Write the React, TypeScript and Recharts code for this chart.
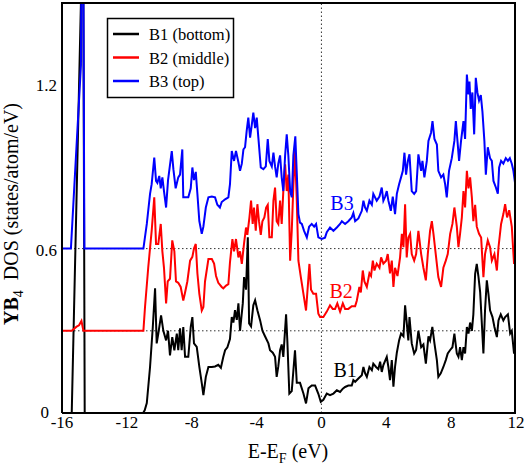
import React from 'react';
import { LineChart, Line, XAxis, YAxis, ReferenceLine, ReferenceDot } from 'recharts';

const SERIF = '"Liberation Serif", "Times New Roman", serif';

// Energy axis ticks (eV)
const X_MAJOR = [-16, -12, -8, -4, 0, 4, 8, 12];
const X_MINOR = [-16, -14, -12, -10, -8, -6, -4, -2, 0, 2, 4, 6, 8, 10, 12];
// DOS axis ticks
const Y_MAJOR = [0, 0.6, 1.2];
const Y_MINOR = [0, 0.3, 0.6, 0.9, 1.2];
// offsets of the shifted curves
const GUIDE_LEVELS = [0.3, 0.6];

// B1 (bottom) – black
const B1_E = [-16, -15.4, -14.7, -14.6, -11.0, -10.9, -10.77, -10.57, -10.4, -10.26, -10.16, -10.06, -9.89, -9.75, -9.58, -9.46, -9.34, -9.2, -9.07, -8.92, -8.83, -8.72, -8.62, -8.52, -8.41, -8.21, -8.06, -7.96, -7.86, -7.69, -7.53, -7.38, -7.28, -7.13, -6.97, -6.76, -6.56, -6.36, -6.2, -6.05, -5.94, -5.8, -5.64, -5.53, -5.43, -5.33, -5.22, -5.12, -5.02, -4.85, -4.77, -4.65, -4.54, -4.46, -4.34, -4.2, -4.09, -3.95, -3.78, -3.64, -3.48, -3.27, -3.17, -3.0, -2.86, -2.76, -2.66, -2.55, -2.45, -2.35, -2.18, -2.1, -1.98, -1.83, -1.63, -1.52, -1.32, -1.11, -0.95, -0.8, -0.6, -0.39, -0.19, -0.04, 0.12, 0.33, 0.53, 0.74, 0.95, 1.15, 1.32, 1.46, 1.66, 1.87, 1.97, 2.08, 2.28, 2.49, 2.59, 2.69, 2.8, 2.96, 3.11, 3.2, 3.37, 3.51, 3.62, 3.72, 3.82, 4.03, 4.13, 4.23, 4.34, 4.44, 4.54, 4.65, 4.79, 4.91, 5.06, 5.16, 5.26, 5.36, 5.43, 5.57, 5.72, 5.84, 5.98, 6.15, 6.29, 6.44, 6.6, 6.7, 6.84, 6.97, 7.12, 7.21, 7.36, 7.52, 7.67, 7.79, 7.94, 8.08, 8.2, 8.35, 8.45, 8.55, 8.66, 8.76, 8.86, 8.97, 9.07, 9.17, 9.28, 9.37, 9.48, 9.58, 9.68, 9.79, 9.89, 9.99, 10.09, 10.2, 10.3, 10.4, 10.55, 10.67, 10.82, 10.92, 11.06, 11.22, 11.33, 11.5, 11.64, 11.74, 11.88, 12.0];
const B1_DOS = [0, 0, 1.85, 0, 0, 0.01, 0.036, 0.168, 0.314, 0.455, 0.254, 0.29, 0.356, 0.3, 0.265, 0.3, 0.21, 0.277, 0.229, 0.29, 0.229, 0.309, 0.229, 0.314, 0.205, 0.205, 0.314, 0.35, 0.254, 0.241, 0.168, 0.109, 0.065, 0.132, 0.168, 0.168, 0.17, 0.176, 0.165, 0.205, 0.229, 0.24, 0.27, 0.35, 0.33, 0.375, 0.34, 0.4, 0.3, 0.4, 0.496, 0.45, 0.641, 0.327, 0.316, 0.393, 0.411, 0.375, 0.338, 0.3, 0.28, 0.254, 0.229, 0.22, 0.205, 0.132, 0.17, 0.229, 0.25, 0.205, 0.36, 0.26, 0.071, 0.08, 0.229, 0.11, 0.11, 0.071, 0.035, 0.09, 0.1, 0.1, 0.07, 0.041, 0.048, 0.071, 0.065, 0.071, 0.083, 0.077, 0.089, 0.095, 0.1, 0.1, 0.12, 0.114, 0.126, 0.138, 0.168, 0.145, 0.132, 0.168, 0.156, 0.18, 0.168, 0.16, 0.187, 0.15, 0.175, 0.205, 0.168, 0.12, 0.193, 0.096, 0.168, 0.22, 0.265, 0.29, 0.28, 0.393, 0.33, 0.265, 0.35, 0.254, 0.217, 0.23, 0.3, 0.24, 0.25, 0.18, 0.28, 0.265, 0.314, 0.254, 0.193, 0.132, 0.145, 0.168, 0.193, 0.217, 0.23, 0.24, 0.29, 0.217, 0.205, 0.24, 0.193, 0.24, 0.217, 0.314, 0.29, 0.33, 0.3, 0.36, 0.508, 0.544, 0.5, 0.44, 0.33, 0.217, 0.375, 0.484, 0.435, 0.375, 0.35, 0.314, 0.277, 0.338, 0.36, 0.338, 0.35, 0.36, 0.29, 0.3, 0.217, 0.28];

// B2 (middle) – red
const B2_E = [-16, -15.4, -15.1, -14.95, -14.8, -14.68, -10.98, -10.88, -10.68, -10.47, -10.31, -10.2, -10.06, -9.91, -9.81, -9.71, -9.58, -9.48, -9.34, -9.2, -9.07, -8.97, -8.83, -8.68, -8.52, -8.41, -8.27, -8.1, -7.96, -7.86, -7.75, -7.65, -7.53, -7.38, -7.28, -7.18, -6.97, -6.76, -6.62, -6.5, -6.36, -6.15, -6.05, -5.88, -5.74, -5.64, -5.49, -5.39, -5.27, -5.12, -5.02, -4.91, -4.77, -4.65, -4.57, -4.44, -4.34, -4.24, -4.16, -4.05, -3.95, -3.85, -3.74, -3.64, -3.52, -3.41, -3.31, -3.21, -3.06, -2.96, -2.86, -2.76, -2.66, -2.55, -2.45, -2.35, -2.24, -2.14, -2.04, -1.93, -1.83, -1.73, -1.63, -1.52, -1.42, -1.27, -1.11, -0.95, -0.8, -0.74, -0.64, -0.5, -0.33, -0.19, -0.08, 0.12, 0.33, 0.53, 0.7, 0.84, 0.98, 1.15, 1.32, 1.46, 1.66, 1.87, 2.08, 2.18, 2.34, 2.43, 2.55, 2.65, 2.8, 2.96, 3.06, 3.17, 3.27, 3.41, 3.58, 3.68, 3.82, 3.99, 4.09, 4.23, 4.34, 4.44, 4.54, 4.69, 4.85, 4.96, 5.06, 5.16, 5.26, 5.36, 5.47, 5.57, 5.72, 5.84, 5.98, 6.15, 6.29, 6.44, 6.56, 6.7, 6.81, 6.91, 7.05, 7.21, 7.38, 7.52, 7.67, 7.79, 7.94, 8.08, 8.2, 8.35, 8.45, 8.55, 8.66, 8.76, 8.86, 8.97, 9.07, 9.17, 9.28, 9.37, 9.48, 9.58, 9.72, 9.85, 9.99, 10.09, 10.26, 10.4, 10.51, 10.67, 10.82, 10.92, 11.08, 11.22, 11.33, 11.45, 11.58, 11.74, 11.88, 12.0];
const B2_DOS = [0.3, 0.3, 0.315, 0.32, 0.336, 0.3, 0.3, 0.387, 0.532, 0.665, 0.787, 0.617, 0.617, 0.69, 0.59, 0.53, 0.4, 0.48, 0.49, 0.63, 0.59, 0.48, 0.475, 0.46, 0.41, 0.44, 0.48, 0.556, 0.57, 0.6, 0.617, 0.51, 0.435, 0.374, 0.387, 0.48, 0.562, 0.562, 0.545, 0.5, 0.475, 0.46, 0.455, 0.465, 0.47, 0.55, 0.635, 0.59, 0.635, 0.568, 0.59, 0.544, 0.62, 0.677, 0.65, 0.714, 0.775, 0.69, 0.75, 0.665, 0.762, 0.7, 0.65, 0.7, 0.714, 0.75, 0.76, 0.641, 0.641, 0.775, 0.823, 0.7, 0.69, 0.775, 0.69, 0.81, 0.908, 0.81, 0.87, 0.556, 0.665, 0.83, 0.956, 0.775, 0.556, 0.496, 0.435, 0.374, 0.496, 0.544, 0.45, 0.435, 0.435, 0.362, 0.35, 0.35, 0.37, 0.393, 0.38, 0.38, 0.4, 0.37, 0.4, 0.38, 0.38, 0.39, 0.39, 0.41, 0.46, 0.44, 0.52, 0.48, 0.46, 0.51, 0.5, 0.556, 0.52, 0.545, 0.53, 0.568, 0.545, 0.556, 0.58, 0.51, 0.556, 0.46, 0.53, 0.5, 0.568, 0.654, 0.605, 0.762, 0.568, 0.64, 0.654, 0.58, 0.556, 0.58, 0.665, 0.58, 0.53, 0.484, 0.58, 0.665, 0.7, 0.654, 0.58, 0.496, 0.46, 0.53, 0.556, 0.58, 0.654, 0.69, 0.75, 0.68, 0.605, 0.654, 0.714, 0.81, 0.75, 0.884, 0.82, 0.86, 0.785, 0.7, 0.76, 0.68, 0.654, 0.64, 0.496, 0.58, 0.63, 0.605, 0.556, 0.58, 0.52, 0.605, 0.69, 0.726, 0.762, 0.714, 0.74, 0.68, 0.544, 0.605];

// B3 (top) – blue
const B3_E = [-16, -15.45, -14.83, -14.74, -14.62, -10.98, -10.77, -10.57, -10.47, -10.31, -10.2, -10.12, -10.0, -9.91, -9.81, -9.71, -9.58, -9.46, -9.23, -9.13, -8.99, -8.83, -8.72, -8.58, -8.52, -8.41, -8.21, -8.06, -7.96, -7.86, -7.75, -7.65, -7.53, -7.38, -7.28, -7.13, -6.97, -6.76, -6.56, -6.42, -6.26, -6.15, -5.94, -5.74, -5.64, -5.53, -5.39, -5.27, -5.12, -5.02, -4.91, -4.81, -4.71, -4.61, -4.51, -4.4, -4.3, -4.2, -4.09, -3.99, -3.89, -3.74, -3.58, -3.43, -3.31, -3.21, -3.06, -2.96, -2.86, -2.76, -2.66, -2.55, -2.45, -2.35, -2.24, -2.14, -2.04, -1.93, -1.83, -1.73, -1.61, -1.52, -1.42, -1.32, -1.21, -1.07, -0.9, -0.76, -0.6, -0.45, -0.33, -0.19, 0.02, 0.22, 0.33, 0.53, 0.74, 0.95, 1.15, 1.26, 1.46, 1.66, 1.87, 1.97, 2.08, 2.28, 2.49, 2.59, 2.69, 2.8, 2.96, 3.11, 3.2, 3.41, 3.58, 3.72, 3.82, 3.93, 4.03, 4.13, 4.28, 4.4, 4.54, 4.65, 4.79, 4.91, 5.02, 5.12, 5.22, 5.33, 5.43, 5.57, 5.72, 5.84, 5.98, 6.15, 6.23, 6.35, 6.5, 6.6, 6.76, 6.85, 6.97, 7.12, 7.21, 7.38, 7.52, 7.63, 7.73, 7.87, 8.04, 8.2, 8.29, 8.39, 8.49, 8.61, 8.76, 8.86, 8.97, 9.07, 9.13, 9.21, 9.31, 9.42, 9.52, 9.62, 9.72, 9.83, 9.93, 10.05, 10.14, 10.26, 10.4, 10.51, 10.61, 10.76, 10.88, 10.96, 11.08, 11.22, 11.37, 11.5, 11.62, 11.74, 11.84, 11.95, 12.0];
const B3_DOS = [0.6, 0.6, 1.27, 2.5, 0.6, 0.6, 0.69, 0.8, 0.835, 0.932, 0.847, 0.84, 0.865, 0.82, 0.86, 0.81, 0.75, 0.85, 0.956, 0.89, 0.82, 0.86, 0.87, 0.962, 0.787, 0.787, 0.787, 0.82, 0.896, 0.85, 0.88, 0.8, 0.7, 0.654, 0.68, 0.75, 0.787, 0.79, 0.787, 0.76, 0.75, 0.77, 0.78, 0.787, 0.835, 0.956, 0.92, 0.956, 0.915, 0.884, 0.91, 0.962, 0.97, 1.03, 1.078, 1.005, 1.05, 1.096, 1.04, 1.078, 1.005, 0.896, 0.89, 0.9, 1.0, 0.92, 0.9, 0.95, 0.9, 0.86, 0.91, 0.94, 0.86, 0.81, 0.94, 1.017, 0.94, 0.81, 0.787, 0.94, 1.01, 0.875, 0.726, 0.695, 0.69, 0.665, 0.641, 0.68, 0.69, 0.68, 0.69, 0.641, 0.635, 0.64, 0.66, 0.677, 0.665, 0.677, 0.69, 0.7, 0.69, 0.7, 0.714, 0.73, 0.7, 0.71, 0.738, 0.775, 0.75, 0.738, 0.775, 0.76, 0.8, 0.775, 0.79, 0.823, 0.775, 0.79, 0.81, 0.775, 0.738, 0.79, 0.726, 0.8, 0.835, 0.86, 0.884, 0.95, 0.87, 0.92, 0.944, 0.81, 0.8, 0.81, 0.944, 0.884, 0.92, 0.86, 0.92, 0.993, 1.023, 1.065, 1.0, 0.98, 0.884, 0.86, 0.87, 0.835, 0.787, 0.884, 0.93, 0.993, 1.065, 0.993, 0.92, 0.993, 1.065, 1.0, 1.235, 1.163, 1.21, 1.11, 1.17, 1.017, 1.223, 1.17, 1.14, 1.16, 1.1, 0.993, 0.87, 0.97, 0.93, 0.92, 0.847, 0.823, 0.8, 0.896, 0.92, 0.91, 0.93, 0.92, 0.93, 0.91, 0.884, 0.835, 0.87];

const SERIES = [
  { name: 'B1 (bottom)', tag: 'B1', color: '#000000', e: B1_E, dos: B1_DOS, tagE: 1.46, tagDos: 0.156 },
  { name: 'B2 (middle)', tag: 'B2', color: '#ff0000', e: B2_E, dos: B2_DOS, tagE: 1.21, tagDos: 0.447 },
  { name: 'B3 (top)', tag: 'B3', color: '#0000ff', e: B3_E, dos: B3_DOS, tagE: 1.27, tagDos: 0.767 },
];

const zip = (e: number[], d: number[]) => e.map((x, i) => ({ x, y: d[i] }));

const XTick = (p: any) => (
  <text x={p.x} y={p.y + 15} textAnchor="middle" fontFamily={SERIF} fontSize={17} fill="#000">
    {String(p.payload.value)}
  </text>
);
const YTick = (p: any) => {
  const v = p.payload.value;
  // the "0" label is nudged left so that it clears the "-16" below it
  const dy = v === 0 ? 5 : 7;
  const dx = v === 0 ? -8 : 0;
  return (
    <text x={p.x + dx} y={p.y + dy} textAnchor="end" fontFamily={SERIF} fontSize={17} fill="#000">
      {String(v)}
    </text>
  );
};

const W = 525;
const H = 470;
// plot area: left 62, right 516, top 2, bottom 413 (main axes take 1px each)
const M = { top: 2, right: 9, bottom: 56, left: 61 };
const TICK_LINE = { stroke: '#000', strokeWidth: 2 };
const FRAME = { stroke: '#000', strokeWidth: 2 };

export default function App() {
  const xCommon = { type: 'number' as const, domain: [-16, 12], allowDataOverflow: true, height: 1, interval: 0 as const };
  const yCommon = { type: 'number' as const, domain: [0, 1.5], allowDataOverflow: true, width: 1, interval: 0 as const };
  return (
    <div style={{ position: 'absolute', left: 0, top: 0, width: W, height: H, background: '#fff' }}>
      <LineChart width={W} height={H} margin={M}>
        <XAxis xAxisId="main" dataKey="x" {...xCommon} ticks={X_MAJOR} tickSize={0} tickMargin={0} tickLine={false} axisLine={FRAME} tick={<XTick />} />
        <XAxis xAxisId="bMin" {...xCommon} ticks={X_MINOR} mirror tickSize={5} tick={false} axisLine={false} tickLine={TICK_LINE} />
        <XAxis xAxisId="bMaj" {...xCommon} ticks={X_MAJOR} mirror tickSize={9} tick={false} axisLine={false} tickLine={TICK_LINE} />
        <XAxis xAxisId="tMin" orientation="top" {...xCommon} ticks={X_MINOR} mirror tickSize={5} tick={false} axisLine={FRAME} tickLine={TICK_LINE} />
        <XAxis xAxisId="tMaj" orientation="top" {...xCommon} ticks={X_MAJOR} mirror tickSize={9} tick={false} axisLine={false} tickLine={TICK_LINE} />
        <YAxis yAxisId="main" {...yCommon} ticks={Y_MAJOR} tickSize={0} tickMargin={5} tickLine={false} axisLine={FRAME} tick={<YTick />} />
        <YAxis yAxisId="lMin" {...yCommon} ticks={Y_MINOR} mirror tickSize={5} tick={false} axisLine={false} tickLine={TICK_LINE} />
        <YAxis yAxisId="lMaj" {...yCommon} ticks={Y_MAJOR} mirror tickSize={9} tick={false} axisLine={false} tickLine={TICK_LINE} />
        <YAxis yAxisId="rMin" orientation="right" {...yCommon} ticks={Y_MINOR} mirror tickSize={5} tick={false} axisLine={FRAME} tickLine={TICK_LINE} />
        <YAxis yAxisId="rMaj" orientation="right" {...yCommon} ticks={Y_MAJOR} mirror tickSize={9} tick={false} axisLine={false} tickLine={TICK_LINE} />
        {GUIDE_LEVELS.map((v) => (
          <ReferenceLine key={v} xAxisId="main" yAxisId="main" y={v} stroke="#333" strokeWidth={1} strokeDasharray="1.5 2.5" />
        ))}
        <ReferenceLine xAxisId="main" yAxisId="main" x={0} stroke="#333" strokeWidth={1} strokeDasharray="1.5 2.5" />
        {SERIES.map((s) => (
          <Line
            key={s.tag}
            xAxisId="main"
            yAxisId="main"
            data={zip(s.e, s.dos)}
            dataKey="y"
            type="linear"
            stroke={s.color}
            strokeWidth={2}
            dot={false}
            activeDot={false}
            isAnimationActive={false}
          />
        ))}
        {SERIES.map((s) => (
          <ReferenceDot
            key={'t' + s.tag}
            xAxisId="main"
            yAxisId="main"
            x={s.tagE}
            y={s.tagDos}
            r={0.5}
            fill="none"
            stroke="none"
            label={{ value: s.tag, position: 'center', fill: s.color, fontSize: 20, fontFamily: SERIF }}
          />
        ))}
      </LineChart>
      <svg width={W} height={H} style={{ position: 'absolute', left: 0, top: 0, pointerEvents: 'none' }}>
        {/* legend */}
        <rect x={107.5} y={18.5} width={126} height={79} fill="#fff" stroke="#000" strokeWidth={1.5} />
        {SERIES.map((s, i) => (
          <g key={'lg' + s.tag}>
            <line x1={113} x2={139} y1={34 + i * 23.5} y2={34 + i * 23.5} stroke={s.color} strokeWidth={2.5} />
            <text x={149} y={40 + i * 23.5} fontFamily={SERIF} fontSize={16.5} fill="#000">{s.name}</text>
          </g>
        ))}
        {/* axis titles */}
        <text x={288} y={458} textAnchor="middle" fontFamily={SERIF} fontSize={20} fill="#000">
          E-E<tspan fontSize={14} dy={5}>F</tspan><tspan dy={-5}> (eV)</tspan>
        </text>
        <text transform="translate(18,214) rotate(-90)" textAnchor="middle" fontFamily={SERIF} fontSize={20} fill="#000">
          <tspan fontWeight="bold">YB</tspan><tspan fontSize={14} dy={5}>4</tspan><tspan dy={-5}>{'\u00a0 DOS (states/atom/eV)'}</tspan>
        </text>
      </svg>
    </div>
  );
}
